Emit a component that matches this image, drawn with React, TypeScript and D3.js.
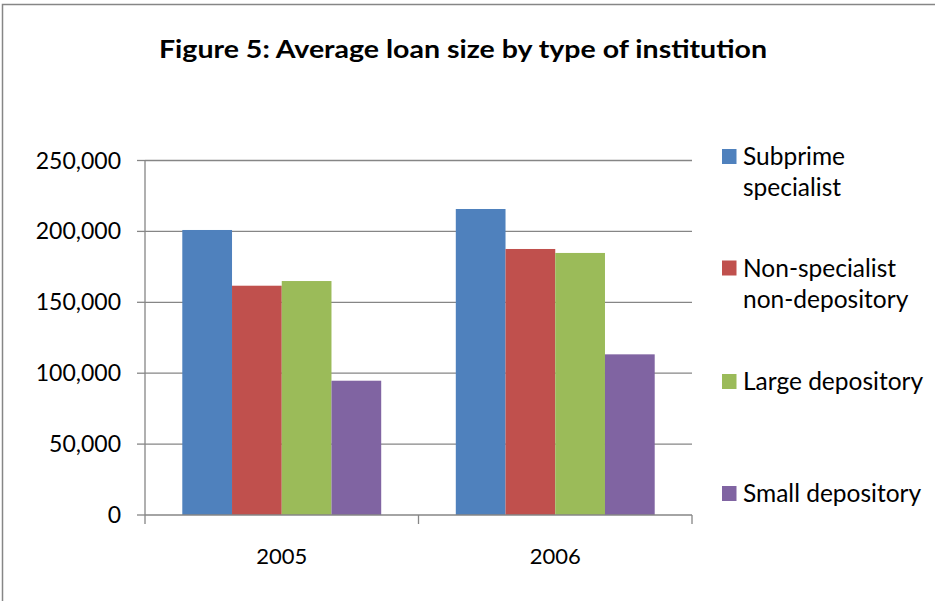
import React from "react";
import * as d3 from "d3";

const years = ["2005", "2006"];
const seriesNames = ["Subprime specialist", "Non-specialist non-depository", "Large depository", "Small depository"];
const legendLines = [["Subprime", "specialist"], ["Non-specialist", "non-depository"], ["Large depository"], ["Small depository"]];
const subprime = [201000, 215800];
const nonSpecialist = [161700, 187600];
const largeDep = [165000, 184800];
const smallDep = [94700, 113300];
const yTicks = [0, 50000, 100000, 150000, 200000, 250000];
const title = "Figure 5: Average loan size by type of institution";

const colors = ["#4F81BD", "#C0504D", "#9BBB59", "#8064A2"];
const values = [subprime, nonSpecialist, largeDep, smallDep];

export default function App() {
  const W = 935, H = 601;
  const left = 145, right = 692, top = 160.5, bottom = 515;
  const x0 = d3.scaleBand<string>().domain(years).range([left, right]);
  const x1 = d3.scaleBand<string>().domain(seriesNames).range([0, x0.bandwidth()]).paddingOuter(0.75).paddingInner(0);
  const y = d3.scaleLinear().domain([0, 250000]).range([bottom, top]);
  const fmt = d3.format(",");
  const font = "Lato, 'Open Sans', sans-serif";
  const grid = "#868686";
  const legendTops = [149, 260.5, 374, 486];

  return (
    <svg width={W} height={H} style={{ position: "absolute", left: 0, top: 0, background: "#fff" }} fontFamily={font}>
      <rect x={2.5} y={4.5} width={W + 10} height={H + 10} fill="#fff" stroke={grid} strokeWidth={1.5} />
      <text x={463} y={58} textAnchor="middle" fontSize={24.5} fontWeight="bold" fill="#000" textLength={608} lengthAdjust="spacingAndGlyphs">{title}</text>
      {yTicks.map((t) => (
        <g key={t}>
          {t > 0 && <line x1={left} x2={right} y1={y(t)} y2={y(t)} stroke={grid} strokeWidth={1.3} />}
          <line x1={left - 8} x2={left} y1={y(t)} y2={y(t)} stroke={grid} strokeWidth={1.3} />
          <text x={121} y={y(t) + 8} textAnchor="end" fontSize={23} fill="#000">{fmt(t)}</text>
        </g>
      ))}
      {years.map((yr, i) => (
        <g key={yr}>
          {seriesNames.map((s, j) => (
            <rect key={s} x={(x0(yr) as number) + (x1(s) as number)} width={x1.bandwidth()} y={y(values[j][i])} height={bottom - y(values[j][i])} fill={colors[j]} />
          ))}
          <text x={(x0(yr) as number) + x0.bandwidth() / 2} y={564} textAnchor="middle" fontSize={22} fill="#000">{yr}</text>
        </g>
      ))}
      <line x1={left} x2={left} y1={top} y2={bottom} stroke={grid} strokeWidth={1.3} />
      <line x1={left} x2={right} y1={bottom} y2={bottom} stroke={grid} strokeWidth={1.3} />
      {[left, (x0("2006") as number), right].map((xx, i) => (
        <line key={i} x1={xx} x2={xx} y1={bottom} y2={bottom + 9} stroke={grid} strokeWidth={1.3} />
      ))}
      {legendLines.map((lines, i) => (
        <g key={i}>
          <rect x={722} y={legendTops[i]} width={14.5} height={15} fill={colors[i]} />
          {lines.map((ln, k) => (
            <text key={k} x={743} y={legendTops[i] + 16} fontSize={24.5} fill="#000" dy={k * 31}>{ln}</text>
          ))}
        </g>
      ))}
    </svg>
  );
}
